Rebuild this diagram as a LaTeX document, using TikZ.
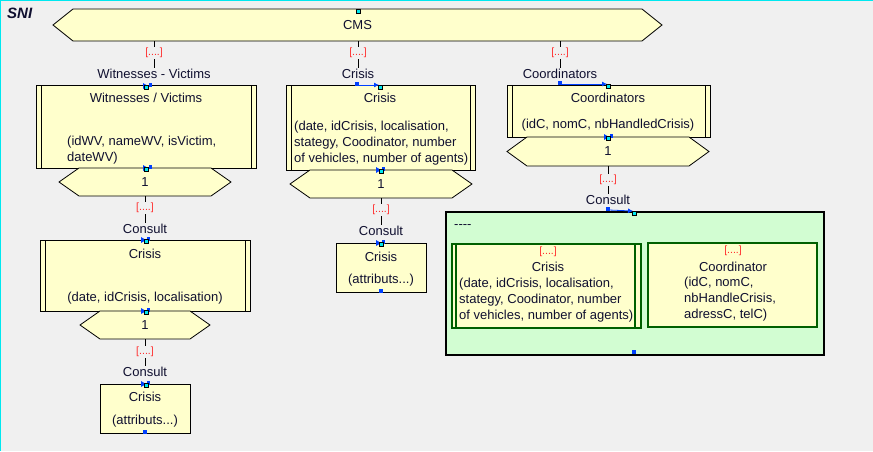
\documentclass[tikz,border=0pt]{standalone}
\usepackage{fontspec}
\setmainfont{Liberation Sans}
\usetikzlibrary{arrows.meta}
\definecolor{bg}{HTML}{F0F0F0}
\definecolor{yel}{HTML}{FFFFCC}
\definecolor{grn}{HTML}{D2FDD2}
\definecolor{dgreen}{HTML}{006000}
\definecolor{lbl}{HTML}{FF2A2A}
\definecolor{txt}{HTML}{101030}
\definecolor{mk}{HTML}{0040FF}
\definecolor{cy}{HTML}{00E8F0}
\newcommand\hexbox[7]{%
  \draw[hexa] (#2,{(#4+#5)/2}) -- ({#2+#6},#4) -- ({#3-#6},#4) -- (#3,{(#4+#5)/2}) -- ({#3-#6},#5) -- ({#2+#6},#5) -- cycle;
  \node[minimum width={(#3-#2)*1pt}, minimum height={(#5-#4)*1pt}] (#1) at ({(#2+#3)/2},{(#4+#5)/2}) {#7};}
\newcommand\rbox[6]{% name x1 x2 y1 y2 style
  \node[#6, anchor=north west, minimum width={(#3-#2)*1pt}, minimum height={(#5-#4)*1pt}] (#1) at (#2,#4) {};}
\newcommand\dlines[5]{% x1 x2 y1 y2 style
  \draw[#5] ({#1+5},#3) -- ({#1+5},#4) ({#2-5},#3) -- ({#2-5},#4);}
\newcommand\cyansq[2]{\draw[black, fill=cy, line width=0.5pt] ({#1-1.8},{#2-1.8}) rectangle ({#1+1.8},{#2+1.8});}
\newcommand\bluesq[2]{\fill[mk] ({#1-2.2},{#2-2.2}) rectangle ({#1+2.2},{#2+2.2});}
\newcommand\bow[2]{\fill[mk] ({#1-5},{#2-3}) -- (#1,#2) -- ({#1-5},{#2+3}) -- cycle; \fill[mk] ({#1+4},{#2-3.5}) rectangle ({#1+1},{#2+1});}
\begin{document}
\begin{tikzpicture}[x=1pt,y=-1pt,
  font=\fontsize{13}{16}\selectfont,
  every node/.style={text=txt, inner sep=0pt},
  box/.style={draw=black, fill=yel, line width=0.9pt},
  hexa/.style={draw=black, fill=yel, line width=0.8pt},
  conn/.style={draw=black, line width=0.9pt},
  card/.style={text=lbl, fill=bg, inner sep=1pt, font=\fontsize{10.5}{12}\selectfont},
  icard/.style={text=lbl, font=\fontsize{10.5}{12}\selectfont},
  role/.style={inner sep=1pt},
  attr/.style={anchor=north west, align=left},
  gbox/.style={draw=dgreen, fill=yel, line width=1.8pt}]
\useasboundingbox (0,0) rectangle (873,451);
\fill[bg] (0,0) rectangle (873,451);
\draw[cy, line width=2pt] (0,451) -- (0,0) -- (873,0);
\node[anchor=west, font=\fontsize{15}{17}\selectfont\bfseries\itshape] (sni) at (7,13) {SNI};

% CMS
\hexbox{cms}{53}{662}{9}{41}{20}{CMS}
\cyansq{358}{11}

% ---- left column
\rbox{wv}{36}{256}{85}{168}{box}
\dlines{36}{256}{85}{168}{black, line width=0.9pt}
\node (wvt) at (146,98) {Witnesses / Victims};
\node[attr] (wva) at (67,136) {(idWV, nameWV, isVictim,\\dateWV)};
\hexbox{wvh}{59}{231}{168}{196}{20}{1}
\node[role] (wvr) at (154,74) {Witnesses - Victims};
\draw[conn] (cms.south -| wvr) -- (wvr.north);
\node[card] (wvc) at (154,53) {[....]};

\rbox{cr2}{40}{250}{240}{311}{box}
\dlines{40}{250}{240}{311}{black, line width=0.9pt}
\node (cr2t) at (145,254) {Crisis};
\node (cr2a) at (145,298) {(date, idCrisis, localisation)};
\hexbox{cr2h}{80}{210}{311}{339}{20}{1}
\node[role] (wvr2) at (145,229) {Consult};
\draw[conn] (wvh.south) -- (wvr2.north);
\node[card] (wvc2) at (145,208) {[....]};

\rbox{cr3}{100}{190}{384}{433}{box}
\node (cr3t) at (145,397) {Crisis};
\node (cr3a) at (145,421) {(attributs...)};
\node[role] (cr3r) at (145,372) {Consult};
\draw[conn] (cr2h.south) -- (cr3r.north);
\node[card] (cc3) at (145,352) {[....]};

% ---- middle column
\rbox{cb}{286}{475}{85}{170}{box}
\dlines{286}{475}{85}{170}{black, line width=0.9pt}
\node (cbt) at (380,98) {Crisis};
\node[attr] (cba) at (294,121) {(date, idCrisis, localisation,\\stategy, Coodinator, number\\of vehicles, number of agents)};
\hexbox{cbh}{290}{472}{170}{198}{20}{1}
\node[role] (cbr) at (358,74) {Crisis};
\draw[conn] (cms.south -| cbr) -- (cbr.north);
\node[card] (cbc) at (358,53) {[....]};

\rbox{cb2}{336}{426}{243}{292}{box}
\node (cb2t) at (381,257) {Crisis};
\node (cb2a) at (381,280) {(attributs...)};
\node[role] (cb2r) at (381,231) {Consult};
\draw[conn] (cbh.south -| cb2r) -- (cb2r.north);
\node[card] (cb2c) at (381,210) {[....]};

% ---- right column
\rbox{co}{507}{710}{85}{137}{box}
\dlines{507}{710}{85}{137}{black, line width=0.9pt}
\node (cot) at (608,98) {Coordinators};
\node (coa) at (608,125) {(idC, nomC, nbHandledCrisis)};
\hexbox{coh}{507}{709}{137}{166}{20}{1}
\node[role] (cor) at (560,74) {Coordinators};
\draw[conn] (cms.south -| cor) -- (cor.north);
\node[card] (coc) at (560,53) {[....]};

\rbox{gr}{445}{823}{211}{354}{draw=black, fill=grn, line width=2pt}
\node[anchor=west] (grd) at (454,227) {-{}-{}-{}-};
\node[role] (grr) at (608,200) {Consult};
\draw[conn] (coh.south) -- (grr.north);
\node[card] (grc) at (608,180) {[....]};

\rbox{gc}{451}{640}{243}{327}{gbox}
\dlines{451}{640}{243}{327}{dgreen, line width=1.8pt}
\node[icard] (gcc) at (548,252) {[....]};
\node (gct) at (548,267) {Crisis};
\node[attr] (gca) at (459,278) {(date, idCrisis, localisation,\\stategy, Coodinator, number\\of vehicles, number of agents)};

\rbox{gk}{647}{816}{242}{326}{gbox}
\node[icard] (gkc) at (733,251) {[....]};
\node (gkt) at (733,267) {Coordinator};
\node[attr] (gka) at (684,277) {(idC, nomC,\\nbHandleCrisis,\\adressC, telC)};

% ---- markers
\bow{148}{86}\cyansq{146}{87}
\bow{148}{168}\cyansq{146}{169}
\bow{146}{240}\cyansq{146}{241}
\bow{146}{311}\cyansq{146}{312}
\bow{146}{384}\cyansq{146}{385}
\bluesq{145}{432}
\bluesq{357}{84}\draw[mk, line width=0.8pt, -{Latex[length=5pt,width=5pt]}] (358,85) -- (379,85);\cyansq{380}{87}
\bow{381}{170}\cyansq{381}{171}
\bow{381}{243}\cyansq{381}{244}
\bluesq{381}{291}
\bluesq{560}{83}\draw[mk, line width=0.8pt, -{Latex[length=5pt,width=5pt]}] (562,84) -- (607,84);\cyansq{608}{86}
\bow{609}{137}\cyansq{608}{138}
\bluesq{608}{209}\draw[mk, line width=0.8pt, -{Latex[length=5pt,width=5pt]}] (609,210) -- (633,211);\cyansq{634}{213}
\bluesq{634}{352}
\end{tikzpicture}
\end{document}
